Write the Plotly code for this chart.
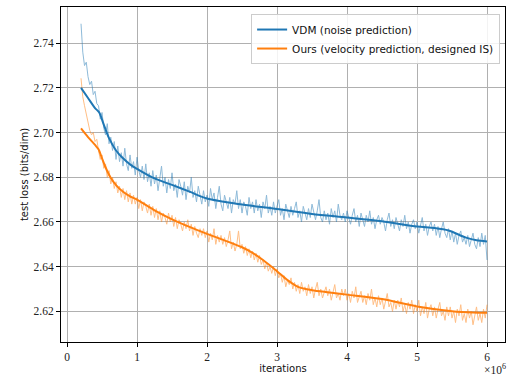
import numpy as np
import plotly.graph_objects as go

# ---- data ----
x_start, x_end = 0.2, 6.0  # iterations (x 1e6), evaluated every 0.025e6

vdm_raw = [
    2.7487, 2.7360, 2.7300, 2.7315, 2.7250, 2.7215, 2.7230, 2.7170, 2.7185, 2.7130,
    2.7120, 2.7060, 2.7090, 2.7020, 2.6990, 2.7040, 2.6950, 2.6980, 2.6920, 2.6960,
    2.6880, 2.6940, 2.6870, 2.6910, 2.6850, 2.6930, 2.6860, 2.6830, 2.6900, 2.6840,
    2.6870, 2.6810, 2.6890, 2.6830, 2.6800, 2.6850, 2.6790, 2.6860, 2.6780, 2.6820,
    2.6760, 2.6830, 2.6770, 2.6810, 2.6740, 2.6790, 2.6850, 2.6760, 2.6800, 2.6730,
    2.6790, 2.6750, 2.6820, 2.6740, 2.6770, 2.6710, 2.6790, 2.6760, 2.6720, 2.6780,
    2.6700, 2.6760, 2.6730, 2.6800, 2.6710, 2.6740, 2.6690, 2.6760, 2.6720, 2.6680,
    2.6740, 2.6690, 2.6720, 2.6670, 2.6750, 2.6700, 2.6730, 2.6660, 2.6710, 2.6760,
    2.6680, 2.6650, 2.6720, 2.6690, 2.6660, 2.6710, 2.6640, 2.6700, 2.6680, 2.6740,
    2.6660, 2.6700, 2.6640, 2.6690, 2.6670, 2.6630, 2.6710, 2.6660, 2.6690, 2.6640,
    2.6700, 2.6650, 2.6680, 2.6620, 2.6690, 2.6660, 2.6720, 2.6640, 2.6670, 2.6630,
    2.6690, 2.6640, 2.6670, 2.6700, 2.6630, 2.6660, 2.6610, 2.6680, 2.6650, 2.6620,
    2.6670, 2.6630, 2.6660, 2.6690, 2.6620, 2.6650, 2.6600, 2.6670, 2.6640, 2.6610,
    2.6660, 2.6620, 2.6680, 2.6640, 2.6610, 2.6650, 2.6700, 2.6620, 2.6600, 2.6650,
    2.6610, 2.6640, 2.6590, 2.6660, 2.6620, 2.6650, 2.6600, 2.6680, 2.6630, 2.6610,
    2.6640, 2.6600, 2.6650, 2.6620, 2.6590, 2.6630, 2.6660, 2.6600, 2.6630, 2.6580,
    2.6640, 2.6610, 2.6580, 2.6630, 2.6600, 2.6650, 2.6590, 2.6620, 2.6570, 2.6610,
    2.6630, 2.6590, 2.6620, 2.6600, 2.6560, 2.6610, 2.6640, 2.6580, 2.6610, 2.6570,
    2.6620, 2.6590, 2.6560, 2.6610, 2.6580, 2.6630, 2.6570, 2.6600, 2.6550, 2.6590,
    2.6610, 2.6570, 2.6600, 2.6550, 2.6590, 2.6620, 2.6560, 2.6590, 2.6540, 2.6580,
    2.6600, 2.6560, 2.6590, 2.6540, 2.6580, 2.6530, 2.6570, 2.6600, 2.6550, 2.6530,
    2.6570, 2.6520, 2.6560, 2.6510, 2.6550, 2.6500, 2.6540, 2.6560, 2.6510, 2.6530,
    2.6500, 2.6540, 2.6490, 2.6520, 2.6550, 2.6500, 2.6480, 2.6530, 2.6490, 2.6550,
    2.6500, 2.6540, 2.6430,
]

ours_raw = [
    2.7243, 2.7160, 2.7120, 2.7080, 2.7050, 2.7010, 2.6990, 2.7000, 2.6960, 2.6970,
    2.6920, 2.6880, 2.6900, 2.6840, 2.6860, 2.6800, 2.6830, 2.6770, 2.6800, 2.6750,
    2.6780, 2.6730, 2.6760, 2.6710, 2.6750, 2.6700, 2.6740, 2.6690, 2.6730, 2.6680,
    2.6720, 2.6680, 2.6710, 2.6660, 2.6700, 2.6650, 2.6690, 2.6670, 2.6640, 2.6680,
    2.6630, 2.6670, 2.6620, 2.6660, 2.6610, 2.6650, 2.6600, 2.6640, 2.6620, 2.6590,
    2.6640, 2.6600, 2.6630, 2.6580, 2.6620, 2.6570, 2.6610, 2.6590, 2.6560, 2.6600,
    2.6570, 2.6610, 2.6560, 2.6590, 2.6540, 2.6580, 2.6550, 2.6530, 2.6570, 2.6540,
    2.6570, 2.6530, 2.6560, 2.6510, 2.6550, 2.6520, 2.6570, 2.6500, 2.6540, 2.6510,
    2.6540, 2.6500, 2.6530, 2.6490, 2.6520, 2.6560, 2.6480, 2.6510, 2.6470, 2.6500,
    2.6560, 2.6480, 2.6500, 2.6460, 2.6490, 2.6450, 2.6480, 2.6440, 2.6470, 2.6430,
    2.6460, 2.6420, 2.6450, 2.6410, 2.6430, 2.6390, 2.6420, 2.6380, 2.6400, 2.6370,
    2.6400, 2.6360, 2.6390, 2.6350, 2.6370, 2.6330, 2.6360, 2.6310, 2.6340, 2.6320,
    2.6350, 2.6300, 2.6330, 2.6290, 2.6320, 2.6280, 2.6330, 2.6290, 2.6310, 2.6270,
    2.6320, 2.6280, 2.6310, 2.6260, 2.6300, 2.6330, 2.6270, 2.6300, 2.6260, 2.6290,
    2.6310, 2.6270, 2.6300, 2.6250, 2.6290, 2.6320, 2.6260, 2.6280, 2.6250, 2.6300,
    2.6270, 2.6300, 2.6250, 2.6280, 2.6240, 2.6290, 2.6260, 2.6310, 2.6240, 2.6270,
    2.6290, 2.6240, 2.6270, 2.6230, 2.6280, 2.6250, 2.6300, 2.6230, 2.6260, 2.6220,
    2.6270, 2.6230, 2.6260, 2.6210, 2.6250, 2.6280, 2.6220, 2.6240, 2.6200, 2.6250,
    2.6210, 2.6250, 2.6220, 2.6260, 2.6200, 2.6230, 2.6190, 2.6240, 2.6210, 2.6250,
    2.6190, 2.6230, 2.6200, 2.6250, 2.6180, 2.6220, 2.6190, 2.6240, 2.6170, 2.6210,
    2.6230, 2.6180, 2.6220, 2.6170, 2.6210, 2.6240, 2.6180, 2.6200, 2.6160, 2.6220,
    2.6180, 2.6220, 2.6170, 2.6200, 2.6150, 2.6210, 2.6180, 2.6230, 2.6160, 2.6190,
    2.6150, 2.6210, 2.6170, 2.6200, 2.6140, 2.6190, 2.6220, 2.6160, 2.6190, 2.6150,
    2.6210, 2.6170, 2.6230,
]

vdm_smooth_x = [0.20, 0.30, 0.40, 0.46, 0.52, 0.60, 0.70, 0.80, 0.90, 1.00, 1.25, 1.50,
                1.75, 2.00, 2.50, 3.00, 3.50, 4.00, 4.50, 5.00, 5.25, 5.45, 5.70, 5.85, 6.00]
vdm_smooth = [2.7200, 2.7155, 2.7110, 2.7090, 2.7040, 2.6975, 2.6920, 2.6885, 2.6858,
              2.6838, 2.6795, 2.6766, 2.6736, 2.6705, 2.6678, 2.6658, 2.6636, 2.6620,
              2.6603, 2.6580, 2.6573, 2.6562, 2.6530, 2.6518, 2.6513]

ours_smooth_x = [0.20, 0.30, 0.40, 0.45, 0.50, 0.55, 0.62, 0.70, 0.80, 0.90, 1.00, 1.25,
                 1.50, 1.75, 2.00, 2.25, 2.50, 2.65, 2.80, 3.00, 3.15, 3.30, 3.50, 3.75,
                 4.00, 4.50, 5.00, 5.50, 5.80, 6.00]
ours_smooth = [2.7019, 2.6980, 2.6945, 2.6925, 2.6885, 2.6845, 2.6800, 2.6765, 2.6735,
               2.6715, 2.6700, 2.6652, 2.6612, 2.6578, 2.6547, 2.6518, 2.6487, 2.6462,
               2.6430, 2.6380, 2.6340, 2.6310, 2.6295, 2.6285, 2.6275, 2.6255, 2.6222,
               2.6201, 2.6195, 2.6194]

x_ticks = [0, 1, 2, 3, 4, 5, 6]
y_ticks = [2.62, 2.64, 2.66, 2.68, 2.70, 2.72, 2.74]

BLUE = "#1f77b4"
ORANGE = "#ff7f0e"

x_raw_v = np.linspace(x_start, x_end, len(vdm_raw))
x_raw_o = np.linspace(x_start, x_end, len(ours_raw))

fig = go.Figure()
fig.add_trace(go.Scatter(x=x_raw_v, y=vdm_raw, mode="lines",
                         line=dict(color=BLUE, width=1), opacity=0.5,
                         showlegend=False, hoverinfo="skip"))
fig.add_trace(go.Scatter(x=x_raw_o, y=ours_raw, mode="lines",
                         line=dict(color=ORANGE, width=1), opacity=0.5,
                         showlegend=False, hoverinfo="skip"))
fig.add_trace(go.Scatter(x=vdm_smooth_x, y=vdm_smooth, mode="lines",
                         line=dict(color=BLUE, width=2, shape="spline", smoothing=0.8),
                         name="VDM (noise prediction)"))
fig.add_trace(go.Scatter(x=ours_smooth_x, y=ours_smooth, mode="lines",
                         line=dict(color=ORANGE, width=2, shape="spline", smoothing=0.8),
                         name="Ours (velocity prediction, designed IS)"))

tick_font = dict(family="Liberation Serif, DejaVu Serif, serif", size=11.5, color="#222")
label_font = dict(family="DejaVu Sans, sans-serif", size=10, color="#111")

fig.update_layout(
    width=509, height=378,
    margin=dict(l=61, r=4, t=7, b=36),
    paper_bgcolor="white", plot_bgcolor="white",
    legend=dict(x=0.989, y=0.979, xanchor="right", yanchor="top",
                bgcolor="rgba(255,255,255,0.85)", bordercolor="#cccccc", borderwidth=1,
                font=dict(family="DejaVu Sans, sans-serif", size=10.5, color="#111"),
                tracegroupgap=0, itemwidth=30),
    xaxis=dict(range=[-0.086, 6.257], tickvals=x_ticks, ticktext=[str(t) for t in x_ticks],
               showgrid=True, gridcolor="#b0b0b0", gridwidth=0.8,
               showline=True, linecolor="black", linewidth=1, mirror=True,
               ticks="outside", ticklen=4, tickcolor="black", zeroline=False,
               tickfont=tick_font,
               title=dict(text="iterations", font=label_font, standoff=2)),
    yaxis=dict(range=[2.6063, 2.7562], tickvals=y_ticks, ticktext=[f"{t:.2f}" for t in y_ticks],
               showgrid=True, gridcolor="#b0b0b0", gridwidth=0.8,
               showline=True, linecolor="black", linewidth=1, mirror=True,
               ticks="outside", ticklen=4, tickcolor="black", zeroline=False,
               tickfont=tick_font,
               title=dict(text="test loss (bits/dim)", font=label_font, standoff=3)),
    annotations=[dict(text="×10<sup>6</sup>", xref="paper", yref="paper",
                      x=1.0068, y=-0.055, xanchor="right", yanchor="top",
                      showarrow=False, font=tick_font)],
)

fig.write_html("out.html")
